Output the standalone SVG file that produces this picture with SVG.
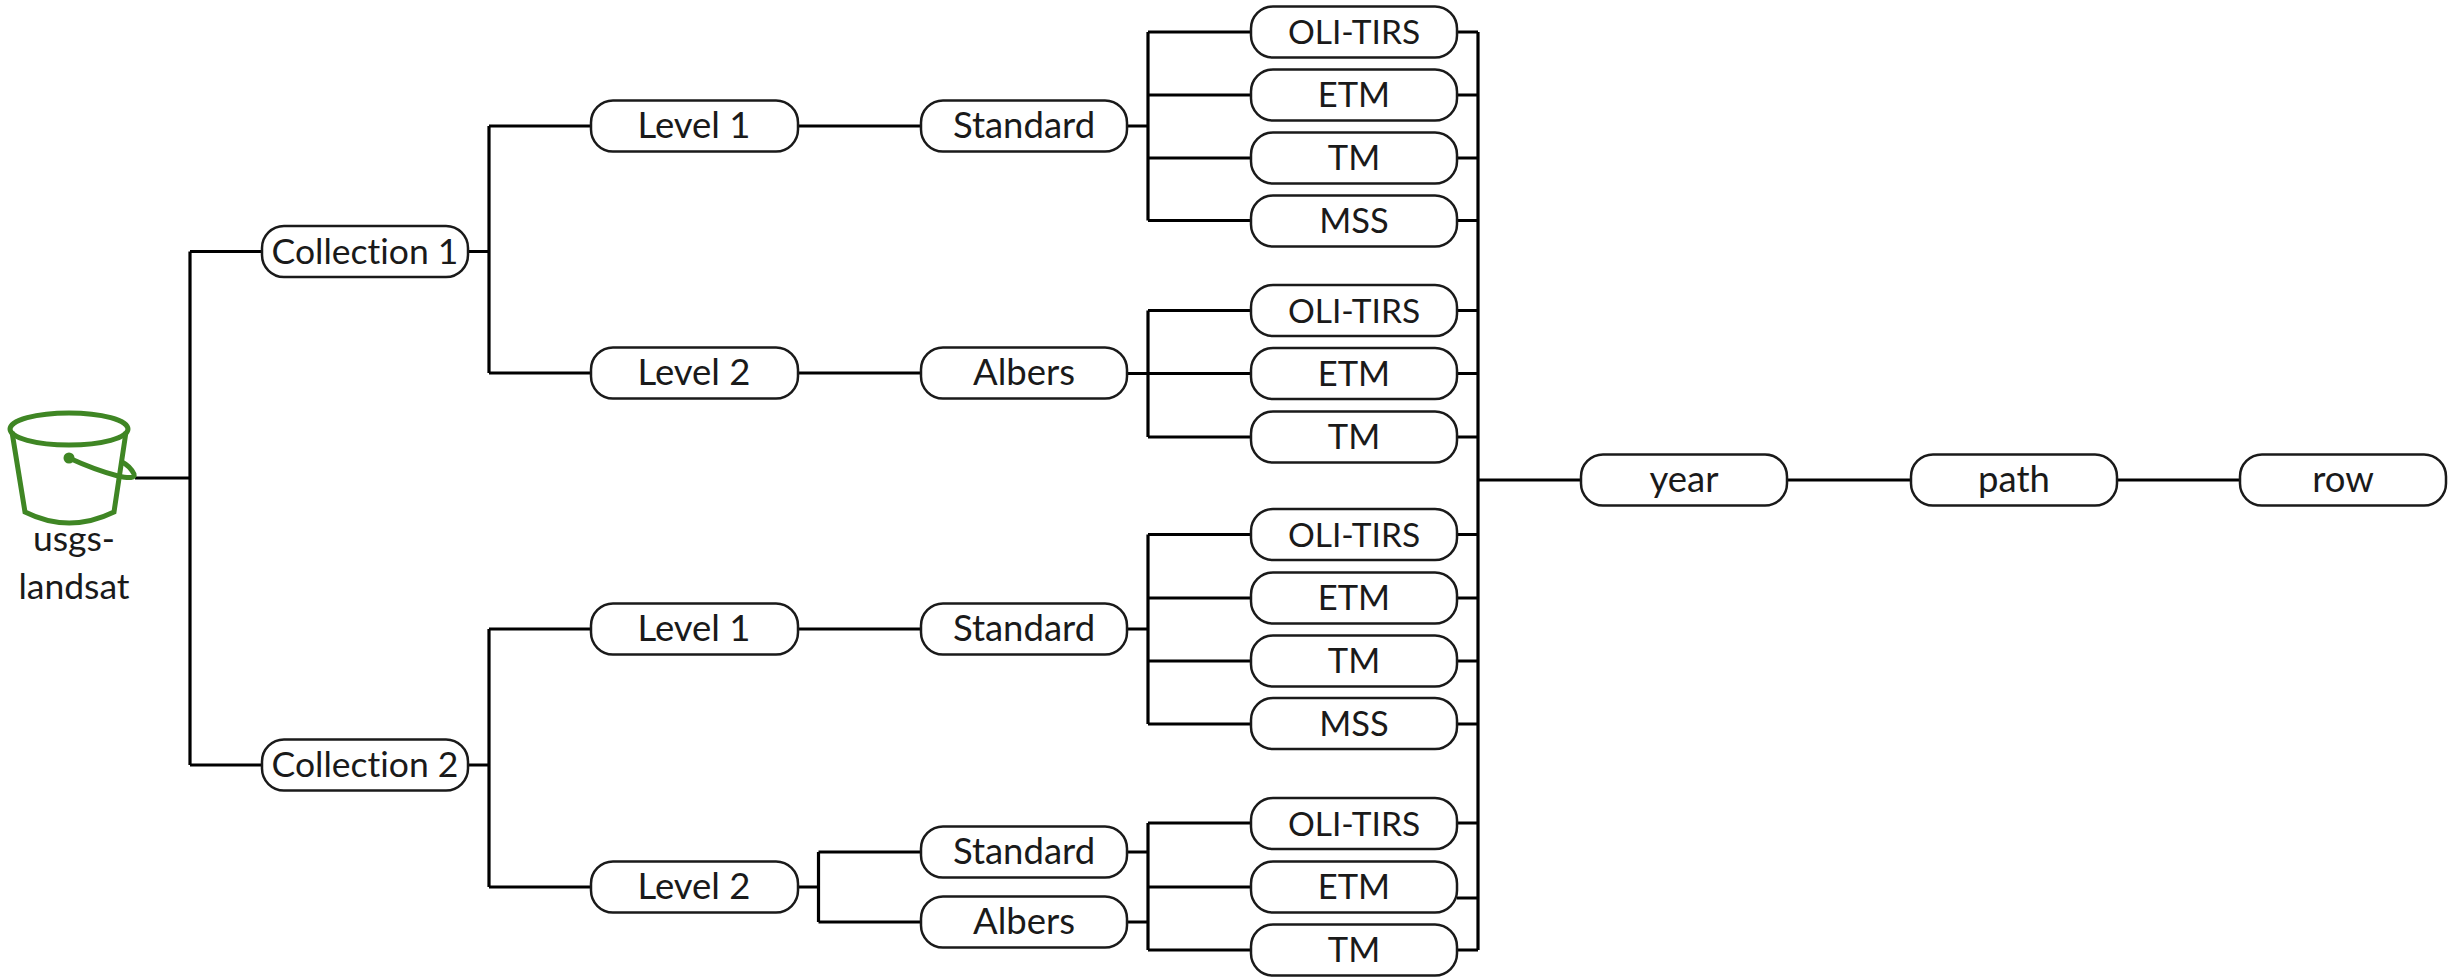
<svg xmlns="http://www.w3.org/2000/svg" width="2453" height="977" viewBox="0 0 2453 977">
<style>
.n text,.lbl{font-family:Lato,"Liberation Sans",sans-serif;font-size:36.5px;fill:#1a1a1a;text-anchor:middle;font-variant-ligatures:none}
.n rect{fill:#fff;stroke:#1a1a1a;stroke-width:2.5}
.n text.u{font-size:34.5px}
.n text.o{font-size:33.5px}
.n text.k,.lbl{font-size:35.5px}
.c path{fill:none;stroke:#000;stroke-width:3.2}
.b{fill:none;stroke:#3f8624;stroke-width:5}
</style>
<rect width="2453" height="977" fill="#fff"/>
<g id="connectors" class="c">
<path d="M135 478H190M190 251.5V765M190 251.5H262M190 765H262"/>
<path d="M467 251.5H489M489 126V373M489 126H591M489 373H591"/>
<path d="M467 765H489M489 629V887M489 629H591M489 887H591"/>
<path d="M798 126H921M798 373H921M798 629H921"/>
<path d="M798 887H818.5M818.5 852V922M818.5 852H921M818.5 922H921"/>
<path d="M1127 126H1148M1148 32V220.5M1148 32H1251M1148 95H1251M1148 158H1251M1148 220.5H1251"/>
<path d="M1127 373.5H1148M1148 310.5V437M1148 310.5H1251M1148 373.5H1251M1148 437H1251"/>
<path d="M1127 629H1148M1148 534.5V724M1148 534.5H1251M1148 598H1251M1148 661H1251M1148 724H1251"/>
<path d="M1127 852H1148M1127 922H1148M1148 823V950M1148 823H1251M1148 887H1251M1148 950H1251"/>
<path d="M1478 32V950M1457 32H1478M1457 95H1478M1457 158H1478M1457 220.5H1478M1457 310.5H1478M1457 373.5H1478M1457 437H1478M1457 534.5H1478M1457 598H1478M1457 661H1478M1457 724H1478M1457 823H1478M1457 898H1478M1457 950H1478"/>
<path d="M1478 480H1581M1787 480H1911M2117 480H2240"/>
</g>
<g id="bucket">
<ellipse class="b" cx="69" cy="429" rx="59" ry="16"/>
<path class="b" d="M12 432L25 512Q69 534 114 512L126 432"/>
<path class="b" d="M69 458Q95 470 118 476Q136 480 134 474Q130 466 122 462"/>
<circle cx="69" cy="458" r="5.5" fill="#3f8624"/>
<text class="lbl" x="74" y="551">usgs-</text>
<text class="lbl" x="74" y="599">landsat</text>
</g>
<g id="collection1" class="n"><rect x="262" y="226" width="206" height="51" rx="22"/><text class="k" x="365" y="263.5">Collection 1</text></g>
<g id="collection2" class="n"><rect x="262" y="739.5" width="206" height="51" rx="22"/><text class="k" x="365" y="777">Collection 2</text></g>
<g id="c1-level1" class="n"><rect x="591" y="100.5" width="207" height="51" rx="22"/><text x="694" y="138">Level 1</text></g>
<g id="c1-level2" class="n"><rect x="591" y="347.5" width="207" height="51" rx="22"/><text x="694" y="385">Level 2</text></g>
<g id="c2-level1" class="n"><rect x="591" y="603.5" width="207" height="51" rx="22"/><text x="694" y="641">Level 1</text></g>
<g id="c2-level2" class="n"><rect x="591" y="861.5" width="207" height="51" rx="22"/><text x="694" y="899">Level 2</text></g>
<g id="c1-standard" class="n"><rect x="921" y="100.5" width="206" height="51" rx="22"/><text x="1024" y="138">Standard</text></g>
<g id="c1-albers" class="n"><rect x="921" y="347.5" width="206" height="51" rx="22"/><text x="1024" y="385">Albers</text></g>
<g id="c2-l1-standard" class="n"><rect x="921" y="603.5" width="206" height="51" rx="22"/><text x="1024" y="641">Standard</text></g>
<g id="c2-l2-standard" class="n"><rect x="921" y="826.5" width="206" height="51" rx="22"/><text x="1024" y="864">Standard</text></g>
<g id="c2-l2-albers" class="n"><rect x="921" y="896.5" width="206" height="51" rx="22"/><text x="1024" y="934">Albers</text></g>
<g id="a1" class="n"><rect x="1251" y="6.5" width="206" height="51" rx="22"/><text class="o" x="1354" y="44">OLI-TIRS</text></g>
<g id="a2" class="n"><rect x="1251" y="69.5" width="206" height="51" rx="22"/><text class="u" x="1354" y="107">ETM</text></g>
<g id="a3" class="n"><rect x="1251" y="132.5" width="206" height="51" rx="22"/><text class="u" x="1354" y="170">TM</text></g>
<g id="a4" class="n"><rect x="1251" y="195.5" width="206" height="51" rx="22"/><text class="u" x="1354" y="233">MSS</text></g>
<g id="b1" class="n"><rect x="1251" y="285" width="206" height="51" rx="22"/><text class="o" x="1354" y="322.5">OLI-TIRS</text></g>
<g id="b2" class="n"><rect x="1251" y="348" width="206" height="51" rx="22"/><text class="u" x="1354" y="385.5">ETM</text></g>
<g id="b3" class="n"><rect x="1251" y="411.5" width="206" height="51" rx="22"/><text class="u" x="1354" y="449">TM</text></g>
<g id="c1" class="n"><rect x="1251" y="509" width="206" height="51" rx="22"/><text class="o" x="1354" y="546.5">OLI-TIRS</text></g>
<g id="c2" class="n"><rect x="1251" y="572.5" width="206" height="51" rx="22"/><text class="u" x="1354" y="610">ETM</text></g>
<g id="c3" class="n"><rect x="1251" y="635.5" width="206" height="51" rx="22"/><text class="u" x="1354" y="673">TM</text></g>
<g id="c4" class="n"><rect x="1251" y="698" width="206" height="51" rx="22"/><text class="u" x="1354" y="735.5">MSS</text></g>
<g id="d1" class="n"><rect x="1251" y="798" width="206" height="51" rx="22"/><text class="o" x="1354" y="835.5">OLI-TIRS</text></g>
<g id="d2" class="n"><rect x="1251" y="861.5" width="206" height="51" rx="22"/><text class="u" x="1354" y="899">ETM</text></g>
<g id="d3" class="n"><rect x="1251" y="924.5" width="206" height="51" rx="22"/><text class="u" x="1354" y="962">TM</text></g>
<g id="year" class="n"><rect x="1581" y="454.5" width="206" height="51" rx="22"/><text x="1684" y="492">year</text></g>
<g id="path" class="n"><rect x="1911" y="454.5" width="206" height="51" rx="22"/><text x="2014" y="492">path</text></g>
<g id="row" class="n"><rect x="2240" y="454.5" width="206" height="51" rx="22"/><text x="2343" y="492">row</text></g>
</svg>
